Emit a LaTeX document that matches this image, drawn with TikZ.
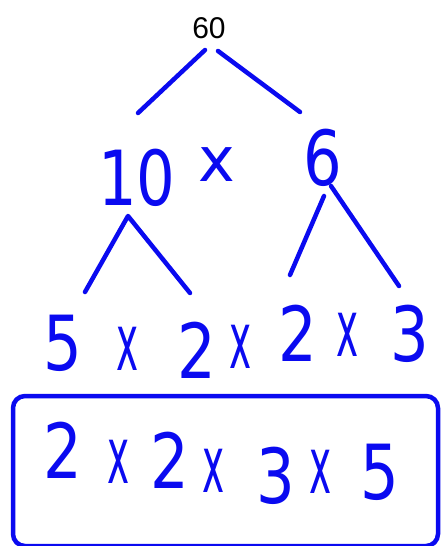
\documentclass[tikz,border=0pt]{standalone}
\usepackage{fontspec}
\setmainfont{Liberation Sans}
\newfontfamily\hand{DejaVu Sans}
\definecolor{ink}{RGB}{10,10,240}
\newcommand{\tallx}{\scalebox{0.85}[1.8]{x}}
\newcommand{\nar}[1]{\scalebox{0.8}[1]{#1}}
\begin{document}
\begin{tikzpicture}[x=1pt,y=-1pt,
  pen/.style={draw=ink,line width=4.5pt,line cap=round,line join=round},
  dig/.style={text=ink,inner sep=0pt,font=\hand\fontsize{76}{76}\selectfont},
  tim/.style={text=ink,inner sep=0pt,font=\hand\fontsize{44}{44}\selectfont}]
\useasboundingbox (0,0) rectangle (445,546);
\fill[white] (0,0) rectangle (445,546);
% top
\node[inner sep=0pt,font=\fontsize{30}{30}\selectfont] (n60) at (209,28) {60};
\coordinate (a1) at (205,50); \coordinate (a2) at (138,113);
\coordinate (b1) at (218,51); \coordinate (b2) at (300,112);
\draw[pen] (a1) -- (a2);
\draw[pen] (b1) -- (b2);
% second row
\node[dig] (n10) at (137,178) {\nar{10}};
\node[tim,font=\hand\fontsize{62}{62}\selectfont] (x1) at (217,165) {x};
\node[dig] (n6) at (323,158) {\nar{6}};
\coordinate (c0) at (128,216); \coordinate (c1) at (85,292); \coordinate (c2) at (190,293);
\coordinate (d1) at (324,196); \coordinate (d2) at (290,275);
\coordinate (e1) at (331,186); \coordinate (e2) at (399,286);
\draw[pen] (c1) -- (c0) -- (c2);
\draw[pen] (d1) -- (d2);
\draw[pen] (e1) -- (e2);
% third row
\node[dig] (r5) at (63,343) {\nar{5}};
\node[tim] (rx1) at (128,349) {\tallx};
\node[dig] (r2a) at (197,350) {\nar{2}};
\node[tim] (rx2) at (241,347) {\tallx};
\node[dig] (r2b) at (298,333) {\nar{2}};
\node[tim] (rx3) at (348,335) {\tallx};
\node[dig] (r3) at (410,334) {\nar{3}};
% box
\node[draw=ink,line width=4.5pt,rounded corners=12pt,minimum width=425pt,minimum height=150pt,inner sep=0pt] (box) at (225.5,471) {};
\node[dig] (s2a) at (63,450) {\nar{2}};
\node[tim] (sx1) at (119,462) {\tallx};
\node[dig] (s2b) at (170,460) {\nar{2}};
\node[tim] (sx2) at (214,471) {\tallx};
\node[dig] (s3) at (276,476) {\nar{3}};
\node[tim] (sx3) at (321,472) {\tallx};
\node[dig] (s5) at (380,472) {\nar{5}};
\end{tikzpicture}
\end{document}
